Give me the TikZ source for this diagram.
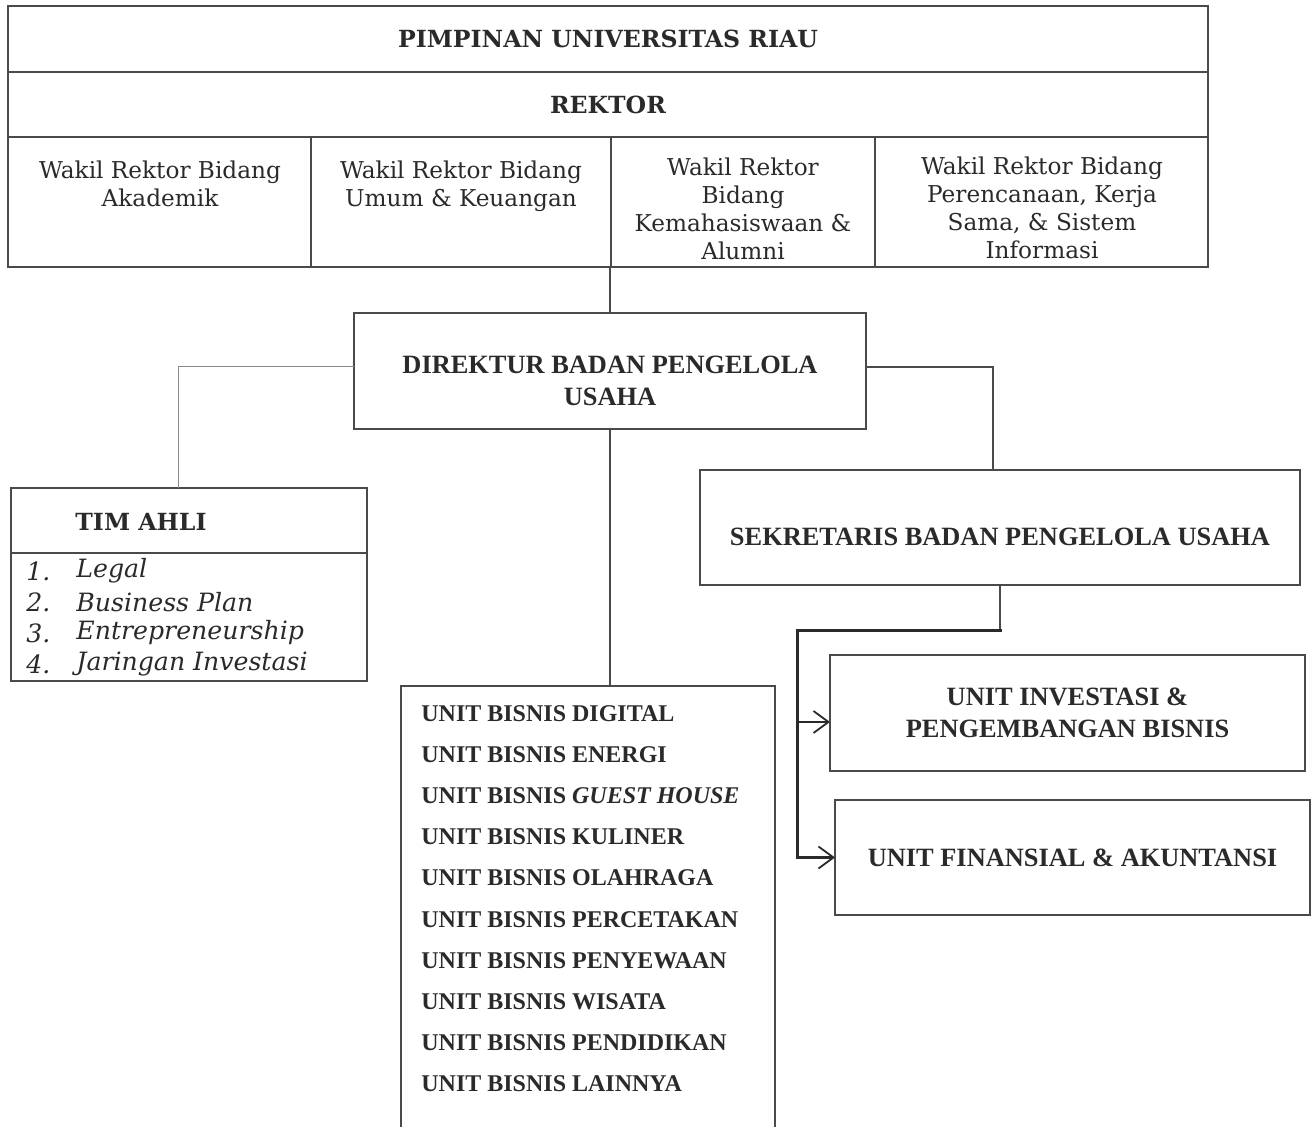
\documentclass[tikz,border=0pt]{standalone}
\usepackage{fontspec}
\setmainfont{Liberation Serif}
\newfontfamily\bkmf{DejaVu Serif}
\newfontfamily\tmsf{Liberation Serif}
\usetikzlibrary{arrows.meta}
\definecolor{txt}{HTML}{2A2A2A}
\definecolor{linec}{HTML}{4A4A4A}
\definecolor{thinc}{HTML}{8A8A8A}
\begin{document}
\begin{tikzpicture}[x=0.5pt,y=-0.5pt,
  cell/.style={draw=linec, line width=0.6pt, inner sep=0pt, outer sep=0pt, text=txt},
  lbl/.style={inner sep=0pt, text=txt},
  bkb/.style={font=\bkmf\bfseries\fontsize{11.8}{14}\selectfont},
  bkr/.style={font=\bkmf\fontsize{11.6}{14}\selectfont, align=center},
  tmb/.style={font=\tmsf\bfseries\fontsize{13.2}{16}\selectfont, align=center},
  ubl/.style={lbl, anchor=west, font=\tmsf\bfseries\fontsize{12}{14}\selectfont},
  conn/.style={draw=linec, line width=0.6pt},
  thick conn/.style={draw=txt, line width=1.5pt},
  arr/.style={-{Straight Barb[length=7.5pt,width=11pt,line width=0.9pt]}, draw=txt, line width=1.1pt}
]
\useasboundingbox (0,0) rectangle (1312,1127);
% top table
\node[cell, bkb, minimum width=600pt, minimum height=33pt] (pim) at (608,39) {PIMPINAN UNIVERSITAS RIAU};
\node[cell, bkb, minimum width=600pt, minimum height=32.5pt] (rek) at (608,104.5) {REKTOR};
\node[cell, minimum width=151.5pt, minimum height=65pt] (wr1) at (159.5,202) {};
\node[cell, minimum width=150pt, minimum height=65pt] (wr2) at (461,202) {};
\node[cell, minimum width=132pt, minimum height=65pt] (wr3) at (743,202) {};
\node[cell, minimum width=166.5pt, minimum height=65pt] (wr4) at (1041.5,202) {};
\node[lbl, bkr, anchor=north] (wr1t) at (160,160) {Wakil Rektor Bidang\\Akademik};
\node[lbl, bkr, anchor=north] (wr2t) at (461,160) {Wakil Rektor Bidang\\Umum \& Keuangan};
\node[lbl, bkr, anchor=north] (wr3t) at (743,157) {Wakil Rektor\\Bidang\\Kemahasiswaan \&\\Alumni};
\node[lbl, bkr, anchor=north] (wr4t) at (1042,156) {Wakil Rektor Bidang\\Perencanaan, Kerja\\Sama, \& Sistem\\Informasi};
% direktur
\node[cell, minimum width=256pt, minimum height=58pt] (dir) at (610,371) {};
\node[lbl, tmb] (dirt) at (610,381) {DIREKTUR BADAN PENGELOLA\\USAHA};
% tim ahli
\node[cell, minimum width=178pt, minimum height=96.5pt] (tim) at (189,584.5) {};
\draw[conn] (tim.west |- 0,553) coordinate (timl) -- (tim.east |- 0,553) coordinate (timr);
\node[lbl, bkb, anchor=west] (timt) at (75,522) {TIM AHLI};
\foreach \n/\t [count=\i] in {1/Legal,2/Business Plan,3/Entrepreneurship,4/Jaringan Investasi}{
  \node[lbl, anchor=west, font=\bkmf\itshape\fontsize{12.6}{14}\selectfont] (tn\i) at (26,540+31*\i) {\n.};
  \node[lbl, anchor=west, font=\bkmf\itshape\fontsize{12.6}{14}\selectfont] (tt\i) at (76,540+31*\i) {\t};
}
% sekretaris
\node[cell, minimum width=300pt, minimum height=57.5pt] (sek) at (1000,527.5) {};
\node[lbl, tmb] (sekt) at (1000,537) {SEKRETARIS BADAN PENGELOLA USAHA};
% unit boxes
\node[cell, tmb, minimum width=237.5pt, minimum height=58pt] (inv) at (1067.5,713) {UNIT INVESTASI \&\\PENGEMBANGAN BISNIS};
\node[cell, tmb, minimum width=237.5pt, minimum height=57.5pt] (fin) at (1072.5,857.5) {UNIT FINANSIAL \& AKUNTANSI};
% unit bisnis
\node[cell, minimum width=187pt, minimum height=232pt] (ub) at (588,918) {};
\foreach \t [count=\i] in {DIGITAL,ENERGI,{\textit{GUEST HOUSE}},KULINER,OLAHRAGA,PERCETAKAN,PENYEWAAN,WISATA,PENDIDIKAN,LAINNYA}{
  \node[ubl] (u\i) at (421,672+41.2*\i) {UNIT BISNIS \t};
}
% connectors
\draw[conn] (dir.north) -- (dir.north |- wr3.south);
\draw[draw=thinc, line width=0.5pt] (dir.west |- 0,367) -| ([xshift=-5.5pt]tim.north);
\draw[conn] (dir.east |- 0,367) -| ([xshift=-3.5pt]sek.north);
\draw[conn] (dir.south) -- (dir.south |- ub.north);
\draw[conn] (sek.south) -- (sek.south |- 0,631) coordinate (bj);
\coordinate (bl) at (797,631);
\draw[thick conn, line cap=rect] (bj) -- (bl) -- (bl |- fin.west);
\draw[arr] (bl |- 0,722) -- (inv.west |- 0,722);
\draw[arr] (bl |- fin.west) -- (fin.west);
\end{tikzpicture}
\end{document}
